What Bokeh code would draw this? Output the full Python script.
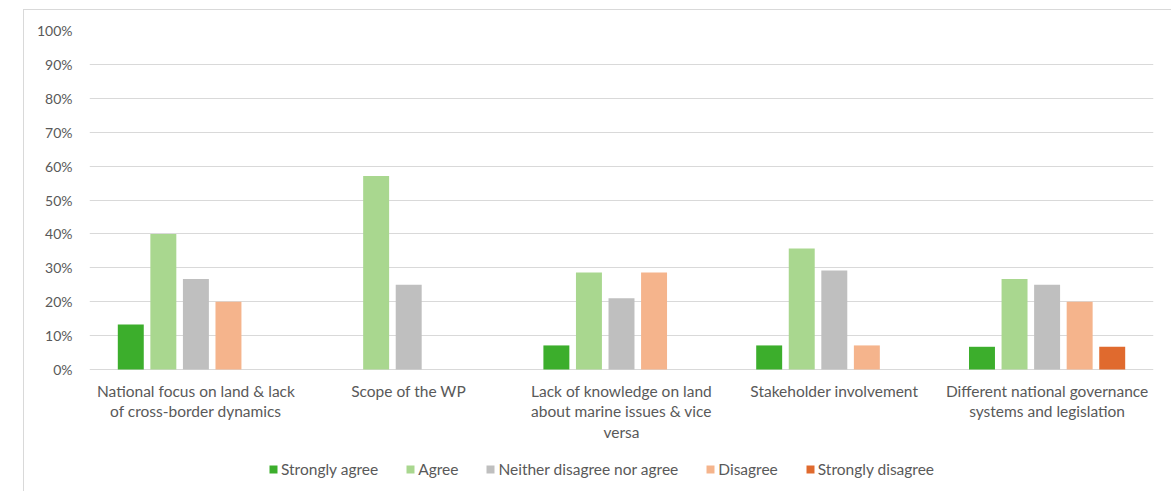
from bokeh.plotting import figure
from bokeh.models import (ColumnDataSource, Legend, LegendItem, NumeralTickFormatter, FixedTicker)
from bokeh.core.properties import value
from bokeh.transform import dodge
from bokeh.embed import file_html
from bokeh.resources import INLINE

categories = [
    "National focus on land & lack\nof cross-border dynamics",
    "Scope of the WP",
    "Lack of knowledge on land\nabout marine issues & vice\nversa",
    "Stakeholder involvement",
    "Different national governance\nsystems and legislation",
]
series = ["Strongly agree", "Agree", "Neither disagree nor agree", "Disagree", "Strongly disagree"]
strongly_agree = [0.133, 0.0, 0.071, 0.071, 0.067]
agree = [0.400, 0.571, 0.286, 0.357, 0.267]
neither = [0.267, 0.250, 0.210, 0.292, 0.250]
disagree = [0.200, 0.0, 0.286, 0.071, 0.200]
strongly_disagree = [0.0, 0.0, 0.0, 0.0, 0.067]
colors = ["#3cae2c", "#a9d78f", "#bfbfbf", "#f5b48c", "#e06a2e"]
y_ticks = [0, 0.1, 0.2, 0.3, 0.4, 0.5, 0.6, 0.7, 0.8, 0.9, 1.0]

values = [strongly_agree, agree, neither, disagree, strongly_disagree]
src = ColumnDataSource(dict(cat=categories, **{f"s{i}": v for i, v in enumerate(values)}))

FONT = "Lato"
TXT = "#595959"
PX_PER_UNIT = 339.0
Y_BOTTOM = -122.0 / PX_PER_UNIT

p = figure(x_range=categories, y_range=(Y_BOTTOM, 1.0), frame_width=1064, frame_height=461,
           output_backend="svg", toolbar_location=None,
           min_border_left=65, min_border_right=18, min_border_top=20, min_border_bottom=0)
p.margin = (9, 0, 0, 23)
p.styles = {"border-left": "1px solid #d9d9d9", "border-top": "1px solid #d9d9d9"}

offsets = [-0.306, -0.153, 0.0, 0.153, 0.306]
items = []
for i, name in enumerate(series):
    r = p.vbar(x=dodge("cat", offsets[i], range=p.x_range), top=f"s{i}", width=0.122,
               source=src, fill_color=colors[i], line_color=None)
    items.append(LegendItem(label=name, renderers=[r]))

# category labels under the baseline
p.text(x="cat", y=-12.0 / PX_PER_UNIT, text="cat", source=src,
       text_font=value(FONT), text_font_size="15.5px", text_color=TXT,
       text_align="center", text_baseline="top", text_line_height=1.16)

p.x_range.range_padding = 0
p.outline_line_color = None
p.background_fill_color = "white"
p.border_fill_color = "white"

p.xgrid.grid_line_color = None
p.ygrid.grid_line_color = "#d9d9d9"
p.ygrid.grid_line_width = 1
p.ygrid.ticker = FixedTicker(ticks=y_ticks)

p.yaxis.ticker = FixedTicker(ticks=y_ticks)
p.yaxis.formatter = NumeralTickFormatter(format="0%")
p.yaxis.axis_line_color = None
p.yaxis.major_tick_line_color = None
p.yaxis.minor_tick_line_color = None
p.yaxis.major_label_text_font = FONT
p.yaxis.major_label_text_font_size = "14px"
p.yaxis.major_label_text_color = TXT
p.yaxis.major_label_standoff = 11

p.xaxis.visible = False

legend = Legend(items=items, orientation="horizontal", location=(179, 13),
                glyph_width=10, glyph_height=10, label_standoff=3, spacing=27,
                label_text_font=FONT, label_text_font_size="15.5px", label_text_color=TXT,
                border_line_color=None, background_fill_alpha=0, padding=0, margin=0)
p.add_layout(legend, "center")

open("out.html", "w").write(file_html(p, INLINE))
